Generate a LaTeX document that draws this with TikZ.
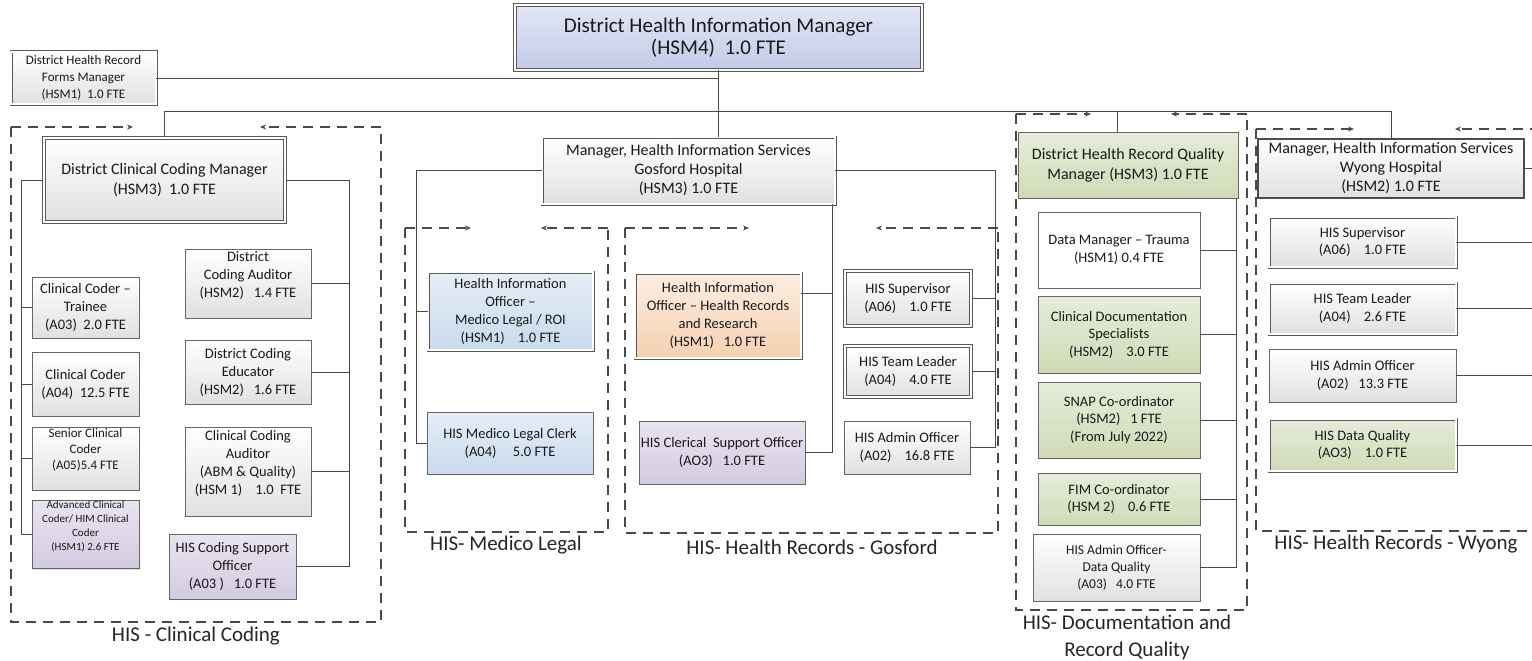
\documentclass[tikz,border=0pt]{standalone}
\usepackage{fontspec}
\setmainfont{Carlito}
\usetikzlibrary{shadows,arrows.meta,calc}
\definecolor{blueT}{HTML}{E2E6F5}
\definecolor{blueB}{HTML}{C3CBE8}
\definecolor{mlT}{HTML}{E6EEF7}
\definecolor{mlB}{HTML}{C8DAEC}
\definecolor{orT}{HTML}{FDEEE2}
\definecolor{orB}{HTML}{F5D0B0}
\definecolor{puT}{HTML}{E9E4F0}
\definecolor{puB}{HTML}{D3CAE0}
\definecolor{grT}{HTML}{E6ECD9}
\definecolor{grB}{HTML}{D0DAB6}
\definecolor{lnC}{HTML}{4A4A4A}
\tikzset{
  conn/.style={draw=lnC, line width=0.9pt},
  frame/.style={draw=lnC, line width=1.1pt, dash pattern=on 10pt off 7pt},
  farrow/.style={frame, -{Stealth[length=6pt,width=5pt]}},
  box/.style={draw=black!60, line width=0.7pt, align=center, inner sep=0pt, text=black!90,
    drop shadow={shadow xshift=1.3pt, shadow yshift=-1.3pt, opacity=0.25}},
  dbl/.style={double=white, double distance=1.4pt, line width=0.8pt, draw=black!65},
  thk/.style={line width=1.8pt, draw=black!70},
  fgray/.style={top color=white, bottom color=black!12},
  fwhite/.style={fill=white},
  fblue/.style={top color=blueT, bottom color=blueB},
  fml/.style={top color=mlT, bottom color=mlB},
  forg/.style={top color=orT, bottom color=orB},
  fpur/.style={top color=puT, bottom color=puB},
  fgrn/.style={top color=grT, bottom color=grB},
  ftop/.style={font=\fontsize{21}{22}\selectfont},
  fcm/.style={font=\fontsize{16}{20}\selectfont},
  fmgr/.style={font=\fontsize{16}{19}\selectfont},
  fq/.style={font=\fontsize{16}{20}\selectfont},
  fmid/.style={font=\fontsize{14.5}{18}\selectfont},
  fcol/.style={font=\fontsize{14.5}{17.5}\selectfont},
  fforms/.style={font=\fontsize{13}{16.7}\selectfont},
  fsen/.style={font=\fontsize{13}{16}\selectfont},
  fadv/.style={font=\fontsize{11}{14}\selectfont},
  fadq/.style={font=\fontsize{13.5}{17}\selectfont},
  lab/.style={font=\fontsize{21}{27}\selectfont, text=black!85, align=center}
}
\newcommand\bx[7]{\node[box,#6, minimum width={#4-#2}, minimum height={#5-#3}] (#1) at ({(#2+#4)/2},{(#3+#5)/2}) {#7};}
\newcommand\frm[6]{%
  \draw[frame] (#1,#2) -- (#1,#4) -- (#3,#4) -- (#3,#2);
  \draw[farrow] (#1,#2) -- (#5,#2);
  \draw[farrow] (#3,#2) -- (#6,#2);}
\begin{document}
\begin{tikzpicture}[x=1pt,y=-1pt]
\useasboundingbox[fill=white] (0,0) rectangle (1532,661);
% frames
\frm{11}{127}{381}{622}{133}{260}
\frm{405}{228}{608}{532}{471}{541}
\frm{625}{228}{998}{533}{749}{876}
\frm{1016}{114}{1247}{610}{1091}{1171}
\draw[frame] (1256,129) -- (1256,531) -- (1540,531);
\draw[farrow] (1256,129) -- (1354,129);
\draw[farrow] (1540,129) -- (1455,129);
% labels
\node[lab] (lcc) at (196,636) {HIS - Clinical Coding};
\node[lab] (lml) at (506,545) {HIS- Medico Legal};
\node[lab] (lgo) at (812,547) {HIS- Health Records - Gosford};
\node[lab] (ldq) at (1127,637) {HIS- Documentation and\\Record Quality};
\node[lab] (lwy) at (1396,544) {HIS- Health Records - Wyong};
% boxes
\bx{dhim}{515}{5}{922}{70}{dbl,fblue,ftop,line width=1pt}{District Health Information Manager\\(HSM4)\ \ 1.0 FTE}
\bx{forms}{11}{52}{156}{104}{dbl,fgray,fforms}{District Health Record\\Forms Manager\\(HSM1)\ \ 1.0 FTE}
\bx{cm}{44}{138}{285}{222}{dbl,fgray,fcm,line width=1.2pt}{District Clinical Coding Manager\\(HSM3)\ \ 1.0 FTE}
\bx{trainee}{32}{277}{139}{338}{fgray,fmid}{Clinical Coder --\\Trainee\\(A03)\ \ 2.0 FTE}
\bx{coder}{32}{352}{139}{416}{fgray,fmid}{Clinical Coder\\(A04)\ \ 12.5 FTE}
\bx{senior}{32}{427}{139}{490}{fgray,fsen}{Senior Clinical\\Coder\\(A05)5.4 FTE\\[4pt]}
\bx{adv}{32}{502}{139}{567}{fpur,fadv}{Advanced Clinical\\Coder/ HIM Clinical\\Coder\\(HSM1) 2.6 FTE\\[4pt]}
\bx{dca}{185}{249}{311}{318}{fgray,fmid}{District\\Coding Auditor\\(HSM2)\ \ \ 1.4 FTE\\[0pt]}
\bx{dce}{185}{340}{311}{404}{fgray,fmid}{District Coding\\Educator\\(HSM2)\ \ \ 1.6 FTE}
\bx{cca}{185}{427}{311}{516}{fgray,fmid}{Clinical Coding\\Auditor\\(ABM \& Quality)\\(HSM 1)\ \ \ \ 1.0\ \ FTE\\[0pt]}
\bx{ccs}{169}{534}{296}{599}{fpur,fmid}{HIS Coding Support\\Officer\\(A03 )\ \ \ 1.0 FTE}
\bx{gm}{542}{137}{835}{204}{dbl,fgray,fmgr}{Manager, Health Information Services\\Gosford Hospital\\(HSM3) 1.0 FTE}
\bx{hml}{428}{272}{593}{350}{dbl,fml,fmid}{Health Information\\Officer --\\Medico Legal / ROI\\(HSM1)\ \ \ \ 1.0 FTE}
\bx{hmc}{427}{412}{593}{474}{fml,fmid}{HIS Medico Legal Clerk\\(A04)\ \ \ \ \ 5.0 FTE}
\bx{hrr}{635}{273}{801}{358}{dbl,forg,fmid}{Health Information\\Officer -- Health Records\\and Research\\(HSM1)\ \ \ 1.0 FTE}
\bx{cso}{639}{421}{805}{484}{fpur,fmid}{HIS Clerical\ \ Support Officer\\(AO3)\ \ \ 1.0 FTE}
\bx{gsup}{845}{271}{971}{326}{dbl,fgray,fmid,line width=1.1pt}{HIS Supervisor\\(A06)\ \ \ \ 1.0 FTE}
\bx{gtl}{845}{346}{971}{397}{dbl,fgray,fmid,line width=1.1pt}{HIS Team Leader\\(A04)\ \ \ \ 4.0 FTE}
\bx{gadm}{844}{421}{970}{474}{fgray,fmid}{HIS Admin Officer\\(A02)\ \ \ \ 16.8 FTE}
\bx{qm}{1018}{132}{1238}{198}{fgrn,fq}{District Health Record Quality\\Manager (HSM3) 1.0 FTE}
\bx{dmt}{1038}{212}{1200}{288}{fwhite,fcol}{Data Manager -- Trauma\\(HSM1) 0.4 FTE}
\bx{cds}{1038}{296}{1200}{373}{fgrn,fcol}{Clinical Documentation\\Specialists\\(HSM2)\ \ \ \ 3.0 FTE}
\bx{snap}{1038}{382}{1200}{458}{fgrn,fcol}{SNAP Co-ordinator\\(HSM2)\ \ \ 1 FTE\\(From July 2022)}
\bx{fim}{1038}{473}{1200}{525}{fgrn,fcol}{FIM Co-ordinator\\(HSM 2)\ \ \ \ 0.6 FTE}
\bx{adq}{1033}{534}{1200}{601}{fgray,fadq}{HIS Admin Officer-\\Data Quality\\(A03)\ \ \ 4.0 FTE}
\bx{wm}{1258}{139}{1524}{198}{thk,fgray,fmgr}{Manager, Health Information Services\\Wyong Hospital\\(HSM2) 1.0 FTE}
\bx{wsup}{1269}{217}{1456}{267}{dbl,fgray,fcol}{HIS Supervisor\\(A06)\ \ \ \ 1.0 FTE}
\bx{wtl}{1269}{283}{1456}{334}{dbl,fgray,fcol}{HIS Team Leader\\(A04)\ \ \ \ 2.6 FTE}
\bx{wadm}{1269}{349}{1456}{402}{fgray,fcol}{HIS Admin Officer\\(A02)\ \ \ 13.3 FTE}
\bx{wdq}{1269}{419}{1456}{471}{dbl,fgrn,fcol}{HIS Data Quality\\(AO3)\ \ \ \ 1.0 FTE}
% connectors: top
\coordinate (busY) at (0,111);
\coordinate (qT) at (1117,0);
\coordinate (eR) at (1532,0);
\draw[conn] (forms.east) -| (dhim.south);
\draw[conn] (dhim.south) -- (dhim.south |- gm.north);
\draw[conn] (cm.north) -- (cm.north |- busY) -- (wm.north |- busY) -- (wm.north);
\draw[conn] (qT |- busY) -- (qT |- qm.north);
% coding
\coordinate (cL) at (21,0);
\coordinate (cR) at (349,0);
\draw[conn] (cm.west) -- (cm.west -| cL) -- (cL |- adv.west) -- (adv.west);
\foreach \n in {trainee,coder,senior} \draw[conn] (cL |- \n.west) -- (\n.west);
\draw[conn] (cm.east) -- (cm.east -| cR) -- (cR |- ccs.east) -- (ccs.east);
\foreach \n in {dca,dce,cca} \draw[conn] (cR |- \n.east) -- (\n.east);
% gosford
\coordinate (gL) at (416,0);
\coordinate (gM) at (832,0);
\coordinate (gR) at (995,0);
\coordinate (hrrY) at (0,293);
\draw[conn] (gm.west) -- (gm.west -| gL) -- (gL |- hmc.west) -- (hmc.west);
\draw[conn] (gL |- hml.west) -- (hml.west);
\draw[conn] (gm.south -| gM) -- (gM |- cso.east) -- (cso.east);
\draw[conn] (hrr.east |- hrrY) -- (gM |- hrrY);
\draw[conn] (gm.east) -- (gm.east -| gR) -- (gR |- gadm.east) -- (gadm.east);
\foreach \n in {gsup,gtl} \draw[conn] (gR |- \n.east) -- (\n.east);
% quality
\coordinate (qR) at (1236,0);
\draw[conn] (qm.south -| qR) -- (qR |- adq.east) -- (adq.east);
\foreach \n in {dmt,cds,snap,fim} \draw[conn] (\n.east) -- (\n.east -| qR);
% wyong
\draw[conn] (wm.east) -- (wm.east -| eR);
\foreach \n in {wsup,wtl,wadm,wdq} \draw[conn] (\n.east) -- (\n.east -| eR);
\end{tikzpicture}
\end{document}
